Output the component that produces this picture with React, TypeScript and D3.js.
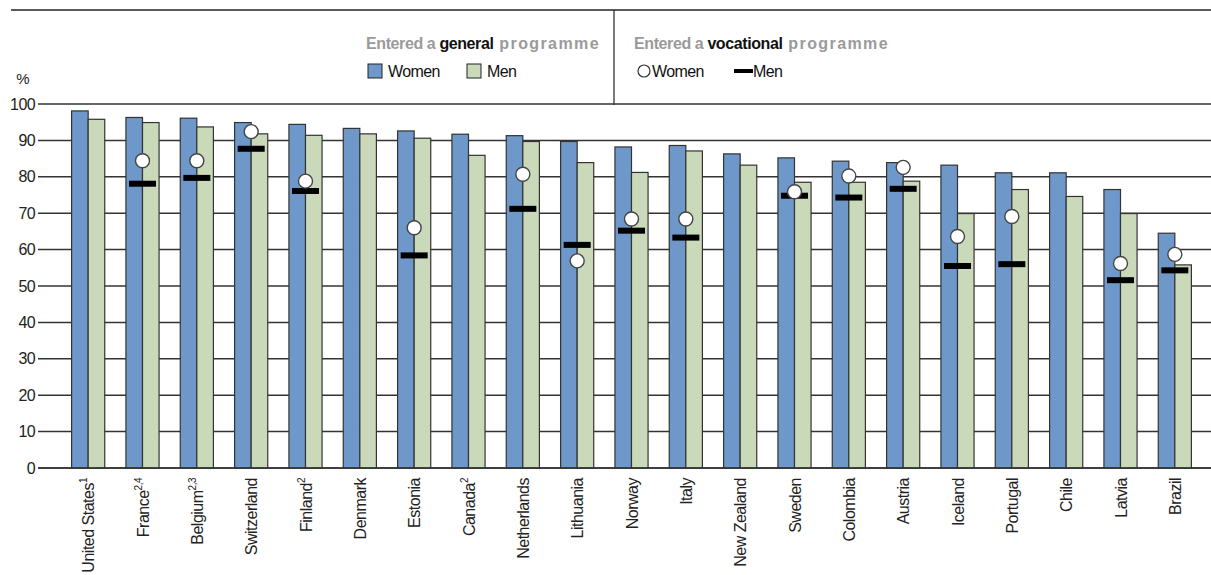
import { useEffect, useRef } from "react";
import * as d3 from "d3";

const countries = [
  "United States", "France", "Belgium", "Switzerland", "Finland", "Denmark",
  "Estonia", "Canada", "Netherlands", "Lithuania", "Norway", "Italy",
  "New Zealand", "Sweden", "Colombia", "Austria", "Iceland", "Portugal",
  "Chile", "Latvia", "Brazil",
];
const notes = ["1", "2,4", "2,3", "", "2", "", "", "2", "", "", "", "", "", "", "", "", "", "", "", "", ""];

const generalWomen = [98.1, 96.3, 96.1, 94.9, 94.4, 93.3, 92.6, 91.7, 91.3, 89.7, 88.2, 88.6, 86.3, 85.2, 84.3, 83.9, 83.2, 81.1, 81.1, 76.5, 64.5];
const generalMen = [95.8, 94.9, 93.7, 91.8, 91.4, 91.8, 90.6, 85.9, 89.7, 83.9, 81.2, 87.1, 83.2, 78.5, 78.5, 78.8, 69.9, 76.5, 74.6, 69.9, 55.8];
const vocWomen: (number | null)[] = [null, 84.4, 84.4, 92.4, 78.8, null, 66.0, null, 80.7, 56.9, 68.4, 68.4, null, 75.9, 80.2, 82.6, 63.6, 69.1, null, 56.2, 58.7];
const vocMen: (number | null)[] = [null, 78.1, 79.7, 87.7, 76.1, null, 58.4, null, 71.2, 61.3, 65.2, 63.3, null, 74.8, 74.3, 76.7, 55.5, 56.0, null, 51.6, 54.3];

const yTicks = [0, 10, 20, 30, 40, 50, 60, 70, 80, 90, 100];

const BLUE = "#6f98ca";
const GREEN = "#c9d9b9";
const FONT = "'Liberation Sans', Arial, sans-serif";

export default function App() {
  const ref = useRef<SVGSVGElement>(null);

  useEffect(() => {
    const svg = d3.select(ref.current);
    svg.selectAll("*").remove();

    const x = d3.scaleBand<string>().domain(countries).range([61, 1202]).paddingInner(0.39).paddingOuter(0.195);
    const y = d3.scaleLinear().domain([0, 100]).range([468, 104]);
    const bw = x.bandwidth() / 2;

    // frame lines at top
    svg.append("line").attr("x1", 11).attr("x2", 1211).attr("y1", 10).attr("y2", 10)
      .attr("stroke", "#222").attr("stroke-width", 1.5);
    svg.append("line").attr("x1", 614).attr("x2", 614).attr("y1", 10).attr("y2", 105)
      .attr("stroke", "#222").attr("stroke-width", 1.2);

    // gridlines
    const grid = svg.append("g");
    grid.selectAll("line").data(yTicks).enter().append("line")
      .attr("x1", 38).attr("x2", 1211)
      .attr("y1", (d) => y(d)).attr("y2", (d) => y(d))
      .attr("stroke", "#333").attr("stroke-width", 1.5);
    grid.selectAll("text").data(yTicks).enter().append("text")
      .attr("x", 35).attr("y", (d) => y(d)).attr("dy", "0.35em")
      .attr("text-anchor", "end").attr("font-family", FONT).attr("font-size", 16)
      .attr("letter-spacing", -0.6).attr("fill", "#222").text((d) => d);
    svg.append("text").attr("x", 23).attr("y", 84).attr("text-anchor", "middle")
      .attr("font-family", FONT).attr("font-size", 15).attr("fill", "#222").text("%");

    // bars
    const bars = svg.append("g").attr("stroke", "#333").attr("stroke-width", 1.2);
    bars.selectAll(".w").data(generalWomen).enter().append("rect")
      .attr("x", (d, i) => x(countries[i])!)
      .attr("y", (d) => y(d)).attr("width", bw).attr("height", (d) => y(0) - y(d))
      .attr("fill", BLUE);
    bars.selectAll(".m").data(generalMen).enter().append("rect")
      .attr("x", (d, i) => x(countries[i])! + bw)
      .attr("y", (d) => y(d)).attr("width", bw).attr("height", (d) => y(0) - y(d))
      .attr("fill", GREEN);

    // baseline over bars
    svg.append("line").attr("x1", 38).attr("x2", 1211).attr("y1", y(0)).attr("y2", y(0))
      .attr("stroke", "#333").attr("stroke-width", 1.5);

    // vocational men dashes
    const cx = (i: number) => x(countries[i])! + bw;
    svg.append("g").selectAll("rect")
      .data(vocMen.map((v, i) => ({ v, i })).filter((d) => d.v !== null))
      .enter().append("rect")
      .attr("x", (d) => cx(d.i) - 13.5).attr("y", (d) => y(d.v as number) - 3)
      .attr("width", 27).attr("height", 6).attr("fill", "#000");

    // vocational women circles
    svg.append("g").selectAll("circle")
      .data(vocWomen.map((v, i) => ({ v, i })).filter((d) => d.v !== null))
      .enter().append("circle")
      .attr("cx", (d) => cx(d.i)).attr("cy", (d) => y(d.v as number)).attr("r", 7)
      .attr("fill", "#fff").attr("stroke", "#444").attr("stroke-width", 1.4);

    // x labels
    const lab = svg.append("g");
    countries.forEach((c, i) => {
      const t = lab.append("text")
        .attr("transform", `translate(${cx(i) + 6},478) rotate(-90)`)
        .attr("text-anchor", "end").attr("font-family", FONT).attr("font-size", 16)
        .attr("letter-spacing", -0.5).attr("fill", "#222");
      t.append("tspan").text(c);
      if (notes[i]) {
        t.append("tspan").attr("font-size", 10).attr("dy", -7).text(notes[i]);
      }
    });

    // legend
    const leg = svg.append("g").attr("font-family", FONT);
    const title = (x0: number, word: string) => {
      const t = leg.append("text").attr("x", x0).attr("y", 49).attr("font-size", 16)
        .attr("font-weight", "bold").attr("letter-spacing", -0.4);
      t.append("tspan").attr("fill", "#9a9a9a").text("Entered a ");
      t.append("tspan").attr("fill", "#111").text(word);
      t.append("tspan").attr("fill", "#9a9a9a").attr("letter-spacing", 1.4).text(" programme");
    };
    title(366, "general");
    title(634, "vocational");

    leg.append("rect").attr("x", 368).attr("y", 64).attr("width", 14).attr("height", 14)
      .attr("fill", BLUE).attr("stroke", "#222").attr("stroke-width", 1);
    leg.append("text").attr("x", 388).attr("y", 77).attr("font-size", 16).attr("letter-spacing", -0.6)
      .attr("fill", "#111").text("Women");
    leg.append("rect").attr("x", 467).attr("y", 64).attr("width", 14).attr("height", 14)
      .attr("fill", GREEN).attr("stroke", "#222").attr("stroke-width", 1);
    leg.append("text").attr("x", 487).attr("y", 77).attr("font-size", 16).attr("letter-spacing", -0.6)
      .attr("fill", "#111").text("Men");

    leg.append("circle").attr("cx", 644).attr("cy", 71).attr("r", 6)
      .attr("fill", "#fff").attr("stroke", "#333").attr("stroke-width", 1.2);
    leg.append("text").attr("x", 652).attr("y", 77).attr("font-size", 16).attr("letter-spacing", -0.6)
      .attr("fill", "#111").text("Women");
    leg.append("rect").attr("x", 734).attr("y", 69).attr("width", 19).attr("height", 4).attr("fill", "#000");
    leg.append("text").attr("x", 753).attr("y", 77).attr("font-size", 16).attr("letter-spacing", -0.6)
      .attr("fill", "#111").text("Men");
  }, []);

  return (
    <svg ref={ref} width={1211} height={575}
      style={{ position: "absolute", left: 0, top: 0, background: "#fff" }} />
  );
}
